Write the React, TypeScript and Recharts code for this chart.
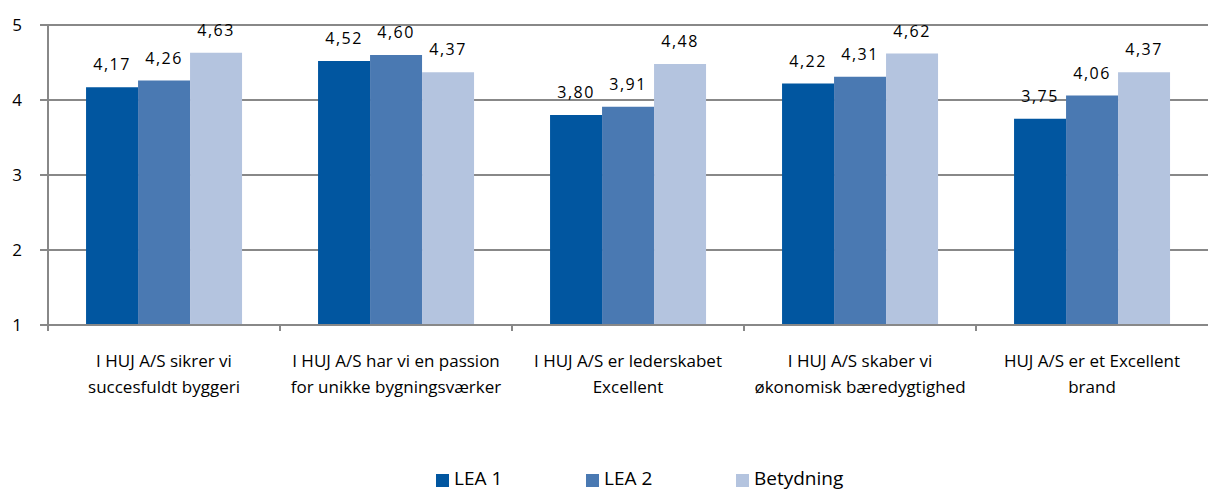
import { Bar, BarChart, CartesianGrid, LabelList, Legend, XAxis, YAxis } from "recharts";

// survey averages per statement, scale 1-5
const categories = ["sikrer", "passion", "lederskab", "økonomi", "brand"];
const labelTop = [
  "I HUJ A/S sikrer vi",
  "I HUJ A/S har vi en passion",
  "I HUJ A/S er lederskabet",
  "I HUJ A/S skaber vi",
  "HUJ A/S er et Excellent",
];
const labelBottom = [
  "succesfuldt byggeri",
  "for unikke bygningsværker",
  "Excellent",
  "økonomisk bæredygtighed",
  "brand",
];
const lea1 = [4.17, 4.52, 3.8, 4.22, 3.75];
const lea2 = [4.26, 4.6, 3.91, 4.31, 4.06];
const betydning = [4.63, 4.37, 4.48, 4.62, 4.37];
const seriesNames = ["LEA 1", "LEA 2", "Betydning"];
const yTicks = [1, 2, 3, 4, 5];

const W = 1208;
const H = 493;
const Y_AXIS_W = 48;
const BAND = (W - Y_AXIS_W) / categories.length;
const FONT = "'Open Sans', Lato, sans-serif";
const GRID = "#888888";
const colors = ["#0156A0", "#4A79B2", "#B4C4DF"];

const data = categories.map((c, i) => ({
  name: c,
  lea1: lea1[i],
  lea2: lea2[i],
  betydning: betydning[i],
}));

const fmt = (v: any) => Number(v).toFixed(2).replace(".", ",");

function CategoryTick(props: any) {
  const { x, y, payload } = props;
  const i = categories.indexOf(payload.value);
  const axisY = y - 8;
  const left = x - BAND / 2;
  return (
    <g>
      <line x1={left} y1={axisY} x2={left} y2={axisY + 6} stroke={GRID} strokeWidth={2} />
      <text x={x} y={axisY + 42} textAnchor="middle" fontSize={17} fill="#000" fontFamily={FONT}>
        {labelTop[i]}
      </text>
      <text x={x} y={axisY + 68} textAnchor="middle" fontSize={17} fill="#000" fontFamily={FONT}>
        {labelBottom[i]}
      </text>
    </g>
  );
}

function LegendBox() {
  return (
    <div style={{ height: 30, display: "flex", alignItems: "flex-end", paddingLeft: 436, fontFamily: FONT, fontSize: 19 }}>
      {seriesNames.map((n, i) => (
        <div key={n} style={{ width: 150, display: "flex", alignItems: "flex-end", marginBottom: 5 }}>
          <span style={{ width: 13, height: 13, background: colors[i], marginRight: 5, marginBottom: 1, display: "inline-block" }} />
          <span style={{ color: "#000", lineHeight: "20px" }}>{n}</span>
        </div>
      ))}
    </div>
  );
}

export default function App() {
  const keys = ["lea1", "lea2", "betydning"];
  return (
    <div style={{ position: "absolute", left: 0, top: 0, background: "#fff" }}>
      <BarChart
        width={W}
        height={H}
        data={data}
        margin={{ top: 25, right: 0, left: 0, bottom: 0 }}
        barCategoryGap="16.4%"
        barGap={0}
      >
        <CartesianGrid vertical={false} stroke={GRID} strokeWidth={2} />
        <YAxis
          width={Y_AXIS_W}
          domain={[1, 5]}
          ticks={yTicks}
          tickSize={8}
          tickMargin={18}
          axisLine={{ stroke: GRID, strokeWidth: 2 }}
          tickLine={{ stroke: GRID, strokeWidth: 2 }}
          tick={{ fill: "#000", fontSize: 17, fontFamily: FONT }}
        />
        <XAxis
          dataKey="name"
          height={138}
          tickLine={false}
          axisLine={{ stroke: GRID, strokeWidth: 2 }}
          tick={<CategoryTick />}
          interval={0}
        />
        <Legend verticalAlign="bottom" content={() => <LegendBox />} />
        {keys.map((k, i) => (
          <Bar key={k} dataKey={k} name={seriesNames[i]} fill={colors[i]} isAnimationActive={false}>
            <LabelList
              dataKey={k}
              position="top"
              offset={17}
              formatter={fmt}
              fill="#000"
              fontSize={16}
              fontFamily={FONT}
              letterSpacing={1.5}
            />
          </Bar>
        ))}
      </BarChart>
    </div>
  );
}
